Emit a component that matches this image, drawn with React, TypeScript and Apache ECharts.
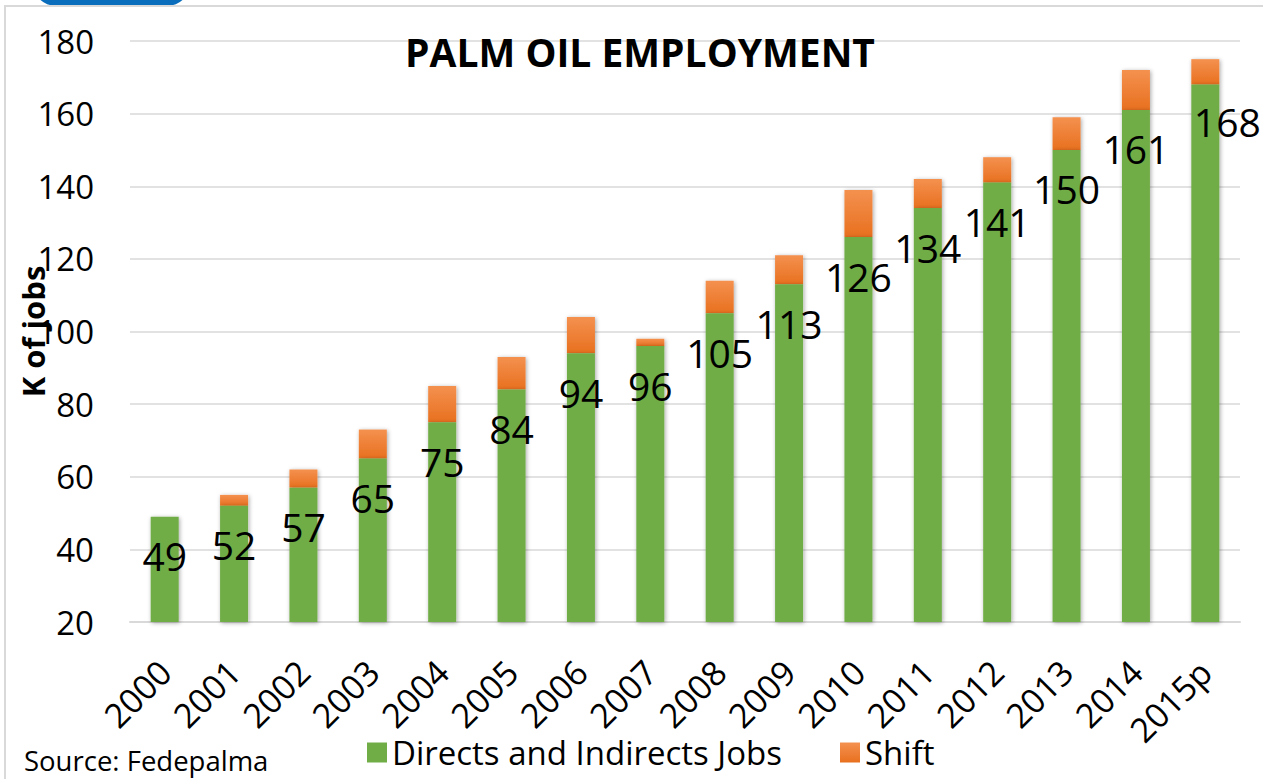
import React, { useEffect, useRef } from "react";
import * as echarts from "echarts";

const categories = ["2000", "2001", "2002", "2003", "2004", "2005", "2006", "2007", "2008", "2009", "2010", "2011", "2012", "2013", "2014", "2015p"];
const directJobs = [49, 52, 57, 65, 75, 84, 94, 96, 105, 113, 126, 134, 141, 150, 161, 168];
const shiftJobs = [0, 3, 5, 8, 10, 9, 10, 2, 9, 8, 13, 8, 7, 9, 11, 7];
const yTicks = { min: 20, max: 180, interval: 20 };

const FONT = "Open Sans";

export default function App() {
  const ref = useRef<HTMLDivElement>(null);
  useEffect(() => {
    if (!ref.current) return;
    const chart = echarts.init(ref.current, null, { renderer: "svg" });
    const directData = directJobs.map((v, i) =>
      i === directJobs.length - 1 ? { value: v, label: { offset: [22, -2] } } : v
    );
    chart.setOption({
      animation: false,
      backgroundColor: "#ffffff",
      textStyle: { fontFamily: FONT },
      grid: { left: 130, right: 23, top: 41, bottom: 157, containLabel: false, outerBoundsMode: "none" },
      graphic: [
        {
          type: "rect",
          shape: { x: 33, y: -40, width: 157, height: 46, r: 23 },
          style: { fill: "#0a6ebd" },
          z: 10,
        },
        {
          type: "rect",
          shape: { x: 5, y: 6, width: 1400, height: 900 },
          style: { fill: "none", stroke: "#d9d9d9", lineWidth: 2 },
          silent: true,
          z: 10,
        },
        {
          type: "text",
          x: 640,
          y: 51,
          style: {
            text: "PALM OIL EMPLOYMENT",
            font: `bold 39px '${FONT}'`,
            fill: "#000",
            textAlign: "center",
            textVerticalAlign: "middle",
          },
          z: 10,
        },
        {
          type: "text",
          x: 24,
          y: 760,
          style: {
            text: "Source: Fedepalma",
            font: `27.5px '${FONT}'`,
            fill: "#000",
            textAlign: "left",
            textVerticalAlign: "middle",
          },
          z: 10,
        },
      ],
      legend: {
        left: 362,
        top: 731,
        itemWidth: 20,
        itemHeight: 20,
        itemGap: 58,
        icon: "rect",
        textStyle: { fontSize: 33, color: "#000", fontFamily: FONT },
        data: ["Directs and Indirects Jobs", "Shift"],
      },
      xAxis: {
        type: "category",
        data: categories,
        axisTick: { show: false },
        axisLine: { lineStyle: { color: "#d9d9d9", width: 2 } },
        axisLabel: { rotate: 45, interval: 0, fontSize: 34, color: "#000", margin: 44, fontFamily: FONT },
      },
      yAxis: {
        type: "value",
        min: yTicks.min,
        max: yTicks.max,
        interval: yTicks.interval,
        name: "K of jobs",
        nameLocation: "middle",
        nameRotate: 90,
        nameGap: 82,
        nameMoveOverlap: false,
        nameTextStyle: { fontSize: 31, fontWeight: "bold", color: "#000", fontFamily: FONT },
        axisLine: { show: false },
        axisTick: { show: false },
        splitLine: { lineStyle: { color: "#d9d9d9", width: 1.5 } },
        axisLabel: { fontSize: 33, color: "#000", margin: 36, fontFamily: FONT },
      },
      series: [
        {
          name: "Directs and Indirects Jobs",
          type: "bar",
          stack: "jobs",
          barWidth: 28,
          data: directData,
          itemStyle: {
            color: "#70ad47",
            shadowBlur: 4,
            shadowColor: "rgba(0,0,0,0.35)",
            shadowOffsetX: 1,
            shadowOffsetY: 1,
          },
          label: {
            show: true,
            position: "insideTop",
            distance: 19,
            fontSize: 39,
            lineHeight: 40,
            color: "#000",
            fontFamily: FONT,
          },
          z: 3,
        },
        {
          name: "Shift",
          type: "bar",
          stack: "jobs",
          barWidth: 28,
          data: shiftJobs,
          itemStyle: {
            color: new echarts.graphic.LinearGradient(0, 0, 0, 1, [
              { offset: 0, color: "#f4914f" },
              { offset: 1, color: "#e8701f" },
            ]),
            shadowBlur: 4,
            shadowColor: "rgba(0,0,0,0.35)",
            shadowOffsetX: 1,
            shadowOffsetY: 1,
          },
          z: 2,
        },
      ],
    });
    return () => chart.dispose();
  }, []);
  return (
    <div
      ref={ref}
      style={{ position: "absolute", left: 0, top: 0, width: 1263, height: 779 }}
    />
  );
}
